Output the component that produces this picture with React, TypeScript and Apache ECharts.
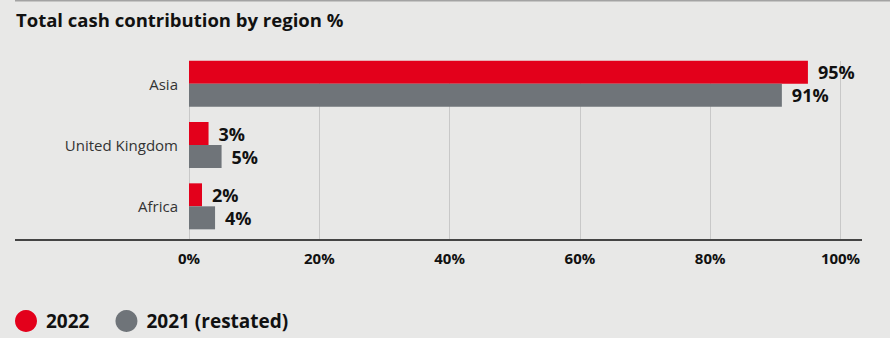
import React, { useEffect, useRef } from "react";
import * as echarts from "echarts";

const categories = ["Asia", "United Kingdom", "Africa"];
const values2022 = [95, 3, 2];
const values2021 = [91, 5, 4];
const xTicks = [0, 20, 40, 60, 80, 100];
const seriesNames = ["2022", "2021 (restated)"];
const colors = ["#e3001b", "#6f7479"];

const FONT = "'Open Sans', Lato, sans-serif";

export default function App() {
  const ref = useRef<HTMLDivElement>(null);
  useEffect(() => {
    document.body.style.margin = "0";
    const chart = echarts.init(ref.current!, null, { renderer: "svg" });
    const labelStyle = {
      show: true,
      position: "right" as const,
      distance: 10,
      formatter: "{c}%",
      fontFamily: FONT,
      fontWeight: "bold" as const,
      fontSize: 18,
      color: "#111",
    };
    chart.setOption({
      animation: false,
      backgroundColor: "#e8e8e7",
      textStyle: { fontFamily: FONT },
      title: {
        text: "Total cash contribution by region %",
        left: 11,
        top: 5,
        textStyle: { fontFamily: FONT, fontSize: 18.5, fontWeight: "bold", color: "#111" },
      },
      legend: {
        left: 10,
        top: 305,
        icon: "circle",
        itemWidth: 22,
        itemHeight: 22,
        itemGap: 26,
        data: seriesNames,
        textStyle: { fontFamily: FONT, fontSize: 19, fontWeight: "bold", color: "#111", padding: [0, 0, 0, 4] },
      },
      grid: [
        { left: 189, right: 49.5, top: 53, height: 184 },
        { left: 189, right: 49.5, top: 61, bottom: 98 },
      ],
      xAxis: [
        { gridIndex: 0, type: "value", min: 0, max: 100, show: false },
        {
          gridIndex: 1,
          type: "value",
          min: xTicks[0],
          max: xTicks[xTicks.length - 1],
          interval: 20,
          axisLine: { show: false },
          axisTick: { show: false },
          splitLine: { show: true, lineStyle: { color: "#c8c8c8", width: 1 } },
          axisLabel: {
            formatter: "{value}%",
            margin: 10,
            fontFamily: FONT,
            fontWeight: "bold",
            fontSize: 15,
            color: "#111",
          },
        },
      ],
      yAxis: [
        {
          gridIndex: 0,
          type: "category",
          inverse: true,
          data: categories,
          axisLine: { show: false },
          axisTick: { show: false },
          splitLine: { show: false },
          axisLabel: { margin: 11, fontFamily: FONT, fontSize: 15, color: "#333" },
        },
        { gridIndex: 1, type: "category", inverse: true, data: categories, show: false },
      ],
      graphic: [
        { type: "line", shape: { x1: 15, y1: 0.75, x2: 890, y2: 0.75 }, style: { stroke: "#a3a3a3", lineWidth: 1.5 }, silent: true },
        { type: "line", shape: { x1: 15, y1: 240, x2: 862, y2: 240 }, style: { stroke: "#444", lineWidth: 2 }, silent: true, z: 10 },
      ],
      series: [
        {
          name: seriesNames[0],
          type: "bar",
          xAxisIndex: 0,
          yAxisIndex: 0,
          data: values2022,
          barWidth: 23,
          barGap: "0%",
          itemStyle: { color: colors[0] },
          label: labelStyle,
          z: 3,
        },
        {
          name: seriesNames[1],
          type: "bar",
          xAxisIndex: 0,
          yAxisIndex: 0,
          data: values2021,
          barWidth: 23,
          barGap: "0%",
          itemStyle: { color: colors[1] },
          label: labelStyle,
          z: 3,
        },
      ],
    });
    return () => chart.dispose();
  }, []);
  return <div ref={ref} style={{ position: "fixed", left: 0, top: 0, width: 890, height: 338 }} />;
}
